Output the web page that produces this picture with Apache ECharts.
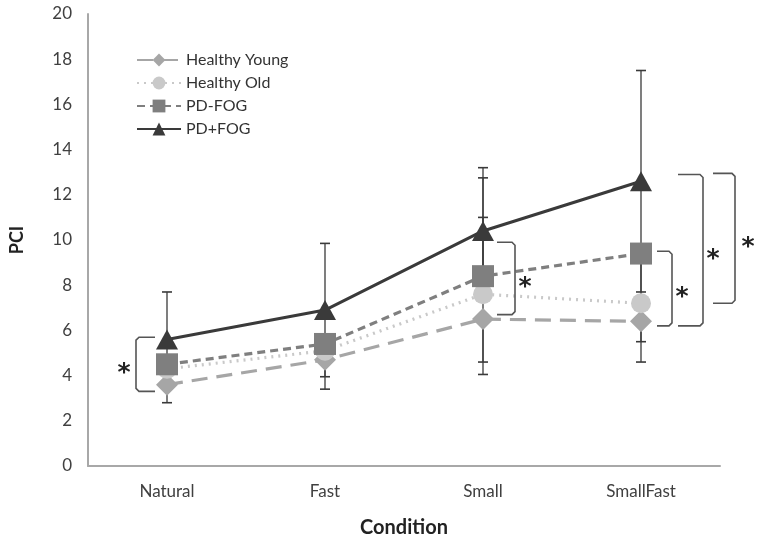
<!DOCTYPE html>
<html><head><meta charset="utf-8">
<script src="https://cdn.jsdelivr.net/npm/echarts@6/dist/echarts.min.js"></script>
<style>html,body{margin:0;padding:0;background:#fff}#c{width:764px;height:546px}</style>
</head><body><div id="c"></div>
<script>
// ---- data ----
var categories = ['Natural', 'Fast', 'Small', 'SmallFast'];
var seriesNames = ['Healthy Young', 'Healthy Old', 'PD-FOG', 'PD+FOG'];
var youngMean = [3.6, 4.7, 6.5, 6.4];
var oldMean = [4.3, 5.1, 7.6, 7.2];
var pdNoFogMean = [4.5, 5.4, 8.4, 9.4];
var pdFogMean = [5.6, 6.9, 10.4, 12.6];
// error bar extents (null = not drawn)
var youngErrPlus = [null, null, null, null];
var youngErrMinus = [0.8, 1.3, 1.9, 0.9];
var oldErrPlus = [null, null, 3.4, null];
var oldErrMinus = [null, null, null, null];
var pdNoFogErrPlus = [null, null, 4.35, null];
var pdNoFogErrMinus = [null, null, 4.35, 4.8];
var pdFogErrPlus = [2.1, 2.95, 2.8, 4.9];
var pdFogErrMinus = [2.1, 2.95, 2.8, 4.9];
var yTicks = [0, 2, 4, 6, 8, 10, 12, 14, 16, 18, 20];
// significance brackets
var bracketCat = [0, 2, 3, 3, 3];
var bracketTop = [5.7, 9.9, 9.5, 12.9, 12.95];
var bracketBottom = [3.3, 6.7, 6.2, 6.2, 7.2];
var bracketLabel = ['*', '*', '*', '*', '*'];

// ---- build ----
var font = 'Lato';
var means = [youngMean, oldMean, pdNoFogMean, pdFogMean];
var errPlus = [youngErrPlus, oldErrPlus, pdNoFogErrPlus, pdFogErrPlus];
var errMinus = [youngErrMinus, oldErrMinus, pdNoFogErrMinus, pdFogErrMinus];
var colors = ['#a6a6a6', '#c9c9c9', '#7f7f7f', '#3a3a3a'];
var symbols = ['diamond', 'circle', 'rect', 'triangle'];
var symbolSizes = [[22, 22], [20, 20], [22, 22], [22, 20]];
var lineTypes = [[16, 9], [2, 5], [8, 5], 'solid'];

var errData = [];
for (var s = 0; s < 4; s++) {
  for (var i = 0; i < categories.length; i++) {
    if (errPlus[s][i] != null) errData.push([i, means[s][i], means[s][i] + errPlus[s][i]]);
    if (errMinus[s][i] != null) errData.push([i, means[s][i], means[s][i] - errMinus[s][i]]);
  }
}
var bracketOffsets = [[-12, -31, -43], [14, 32, 42], [16, 31, 41], [37, 62, 72], [72, 94, 107]];
var bracketData = [];
for (var b = 0; b < bracketCat.length; b++) {
  bracketData.push([bracketCat[b], bracketTop[b], bracketBottom[b], b]);
}

var series = [];
series.push({
  type: 'custom', name: 'err', z: 1, silent: true,
  data: errData,
  renderItem: function (params, api) {
    var p0 = api.coord([api.value(0), api.value(1)]);
    var p1 = api.coord([api.value(0), api.value(2)]);
    return {
      type: 'group', children: [
        { type: 'line', shape: { x1: p0[0], y1: p0[1], x2: p1[0], y2: p1[1] }, style: { stroke: '#3a3a3a', lineWidth: 1.3 } },
        { type: 'line', shape: { x1: p1[0] - 5, y1: p1[1], x2: p1[0] + 5, y2: p1[1] }, style: { stroke: '#3a3a3a', lineWidth: 1.6 } }
      ]
    };
  }
});
for (var k = 0; k < 4; k++) {
  series.push({
    type: 'line', name: seriesNames[k], data: means[k], z: 3 + k,
    symbol: symbols[k], symbolSize: symbolSizes[k],
    itemStyle: { color: colors[k], borderWidth: 0 },
    lineStyle: { color: colors[k], width: k === 3 ? 3 : 3.2, type: lineTypes[k] },
    emphasis: { disabled: true }, animation: false
  });
}
series.push({
  type: 'custom', name: 'brackets', z: 10, silent: true,
  data: bracketData,
  renderItem: function (params, api) {
    var idx = api.value(3);
    var off = bracketOffsets[idx];
    var c = api.coord([api.value(0), api.value(1)]);
    var cb = api.coord([api.value(0), api.value(2)]);
    var xn = c[0] + off[0], xf = c[0] + off[1];
    var r = 3, dir = off[1] > off[0] ? 1 : -1;
    var pts = [[xn, c[1]], [xf - dir * r, c[1]], [xf, c[1] + r], [xf, cb[1] - r], [xf - dir * r, cb[1]], [xn, cb[1]]];
    return {
      type: 'group', children: [
        { type: 'polyline', shape: { points: pts }, style: { stroke: '#555', lineWidth: 1.6, fill: null } },
        { type: 'text', style: { text: bracketLabel[idx], x: c[0] + off[2], y: (c[1] + cb[1]) / 2 + 9, align: 'center', verticalAlign: 'middle', font: 'bold 25px "DejaVu Sans"', fill: '#222' } }
      ]
    };
  }
});

var chart = echarts.init(document.getElementById('c'), null, { renderer: 'canvas' });
chart.setOption({
  animation: false,
  backgroundColor: '#fff',
  grid: { left: 88, right: 44, top: 14, bottom: 80 },
  legend: {
    data: seriesNames, orient: 'vertical', left: 131, top: 47,
    itemWidth: 44, itemHeight: 16, itemGap: 7,
    textStyle: { fontFamily: font, fontSize: 16, color: '#333' }
  },
  xAxis: {
    type: 'category', data: categories, boundaryGap: true,
    name: 'Condition', nameLocation: 'middle', nameGap: 52,
    nameTextStyle: { fontFamily: font, fontSize: 20, fontWeight: 'bold', color: '#222' },
    axisLine: { lineStyle: { color: '#a8a8a8', width: 2 } },
    axisTick: { show: false },
    axisLabel: { fontFamily: font, fontSize: 17, color: '#404040', margin: 17 }
  },
  yAxis: {
    type: 'value', min: yTicks[0], max: yTicks[yTicks.length - 1], interval: 2,
    name: 'PCI', nameLocation: 'middle', nameGap: 62, nameRotate: 90,
    nameTextStyle: { fontFamily: font, fontSize: 18, fontWeight: 'bold', color: '#222' },
    axisLine: { show: true, lineStyle: { color: '#a8a8a8', width: 2 } },
    axisTick: { show: false },
    splitLine: { show: false },
    axisLabel: { fontFamily: font, fontSize: 17, color: '#404040', margin: 16 }
  },
  series: series
});
</script></body></html>
